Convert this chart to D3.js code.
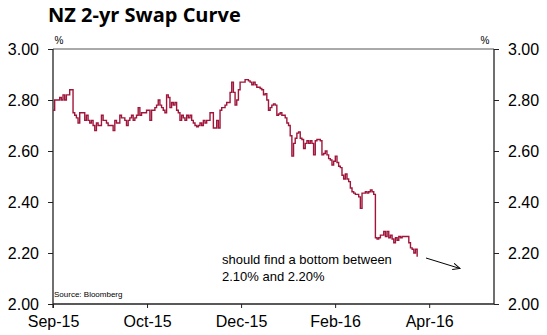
<!DOCTYPE html>
<html>
<head>
<meta charset="utf-8">
<script src="https://cdn.jsdelivr.net/npm/d3@7"></script>
<style>
  html, body { margin: 0; padding: 0; background: #fff; }
  svg { display: block; }
</style>
</head>
<body>
<svg id="chart" width="547" height="335"></svg>
<script>
// ---- Data ----
const title = "NZ 2-yr Swap Curve";
const yTicks = [2.00, 2.20, 2.40, 2.60, 2.80, 3.00];
const xTickLabels = ["Sep-15", "Oct-15", "Dec-15", "Feb-16", "Apr-16"];
const xTickIndex = [0, 56.3, 112.6, 168.9, 225.2];   // trading-day index of each label
const xDomainEnd = 264;                               // trading-day index at right axis
const swapRate = [
  // Sep-15 .. Oct-15
  2.76, 2.80, 2.80, 2.80, 2.81, 2.80, 2.82, 2.80, 2.82, 2.82, 2.84, 2.84, 2.75, 2.74, 2.73, 2.71,
  2.75, 2.75, 2.75, 2.72, 2.74, 2.72, 2.71, 2.72, 2.70, 2.68, 2.71, 2.70, 2.70, 2.74, 2.72, 2.72,
  2.71, 2.70, 2.70, 2.70, 2.68, 2.72, 2.71, 2.71, 2.74, 2.73, 2.73, 2.72, 2.70, 2.72, 2.73, 2.74,
  2.72, 2.73, 2.74, 2.77, 2.74, 2.75, 2.75, 2.75, 2.76, 2.76,
  // Oct-15 .. Dec-15
  2.72, 2.76, 2.76, 2.77, 2.78, 2.80, 2.78, 2.77, 2.76, 2.75, 2.82, 2.81, 2.77, 2.79, 2.78, 2.79,
  2.76, 2.75, 2.72, 2.74, 2.73, 2.72, 2.74, 2.73, 2.74, 2.72, 2.71, 2.70, 2.695, 2.70, 2.71, 2.70,
  2.72, 2.71, 2.72, 2.72, 2.75, 2.75, 2.69, 2.69, 2.72, 2.69, 2.76, 2.77, 2.77, 2.78, 2.79, 2.79,
  2.83, 2.87, 2.83, 2.78, 2.80, 2.84, 2.87, 2.87, 2.87, 2.88, 2.88,
  // Dec-15 .. Feb-16
  2.875, 2.87, 2.86, 2.87, 2.86, 2.85, 2.85, 2.845, 2.84, 2.82, 2.825, 2.80, 2.76, 2.77, 2.78, 2.785,
  2.78, 2.74, 2.745, 2.75, 2.74, 2.74, 2.73, 2.71, 2.70, 2.66, 2.58, 2.63, 2.65, 2.67, 2.675, 2.65,
  2.645, 2.61, 2.63, 2.64, 2.63, 2.64, 2.63, 2.585, 2.64, 2.645, 2.645, 2.64, 2.585, 2.59, 2.60, 2.585,
  2.57, 2.565, 2.545, 2.56, 2.58, 2.555, 2.54, 2.535,
  // Feb-16 .. end
  2.505, 2.49, 2.51, 2.49, 2.48, 2.455, 2.44, 2.435, 2.43, 2.43, 2.42, 2.375, 2.435, 2.435, 2.44, 2.435,
  2.44, 2.447, 2.44, 2.43, 2.26, 2.255, 2.26, 2.27, 2.27, 2.285, 2.265, 2.285, 2.26, 2.27, 2.255, 2.24,
  2.26, 2.25, 2.265, 2.26, 2.265, 2.265, 2.265, 2.265, 2.24, 2.22, 2.215, 2.20, 2.215, 2.185
];
const sourceText = "Source: Bloomberg";
const noteLines = ["should find a bottom between", "2.10% and 2.20%"];

// ---- Layout ----
const svg = d3.select("#chart");
const pL = 53, pR = 494, pT = 49, pB = 304;
const x = d3.scaleLinear().domain([0, xDomainEnd]).range([pL, pR]);
const y = d3.scaleLinear().domain([2, 3]).range([pB, pT]);
const axisColor = "#222";
const labelFont = "'Liberation Sans', Arial, sans-serif";

// Title
svg.append("text").attr("x", 48).attr("y", 22)
  .attr("font-family", "'Open Sans', sans-serif").attr("font-weight", 700)
  .attr("font-size", 20).attr("fill", "#000").text(title);

// Frame top line
svg.append("line").attr("x1", pL).attr("x2", pR).attr("y1", pT).attr("y2", pT)
  .attr("stroke", "#555").attr("stroke-width", 1);

// Left axis
const yLeft = d3.axisLeft(y).tickValues(yTicks).tickFormat(d3.format(".2f")).tickSize(5).tickPadding(9);
const gL = svg.append("g").attr("transform", `translate(${pL},0)`).call(yLeft);
// Right axis
const yRight = d3.axisRight(y).tickValues(yTicks).tickFormat(d3.format(".2f")).tickSize(5).tickPadding(9);
const gR = svg.append("g").attr("transform", `translate(${pR},0)`).call(yRight);
// Bottom axis
const xAxis = d3.axisBottom(x).tickValues(xTickIndex)
  .tickFormat((d, i) => xTickLabels[i]).tickSize(4).tickPadding(8);
const gB = svg.append("g").attr("transform", `translate(0,${pB})`).call(xAxis);

[gL, gR, gB].forEach(g => {
  g.select(".domain").attr("stroke", axisColor).attr("stroke-width", 1.3);
  g.selectAll(".tick line").attr("stroke", axisColor).attr("stroke-width", 1);
  g.selectAll(".tick text").attr("font-family", labelFont).attr("font-size", 16).attr("fill", "#000");
});
gL.select(".domain").attr("d", `M0,${pT}V${pB + 4}`);
gR.select(".domain").attr("d", `M0,${pT}V${pB}`);
gB.select(".domain").attr("d", `M${pL},0H${pR}`);

// % labels
svg.append("text").attr("x", 59).attr("y", 44).attr("text-anchor", "middle")
  .attr("font-family", labelFont).attr("font-size", 10).text("%");
svg.append("text").attr("x", 485).attr("y", 44).attr("text-anchor", "middle")
  .attr("font-family", labelFont).attr("font-size", 10).text("%");

// Series line
const line = d3.line()
  .x((d, i) => x(i))
  .y(d => y(d))
  .curve(d3.curveStepAfter);
svg.append("path").datum(swapRate)
  .attr("d", line)
  .attr("fill", "none")
  .attr("stroke", "#a0163a")
  .attr("stroke-width", 1.4);

// Source
svg.append("text").attr("x", 54).attr("y", 297)
  .attr("font-family", labelFont).attr("font-size", 8).text(sourceText);

// Annotation
const note = svg.append("text").attr("font-family", labelFont).attr("font-size", 13).attr("fill", "#000");
noteLines.forEach((t, i) => {
  note.append("tspan").attr("x", 222).attr("y", 264 + i * 16.5).text(t);
});

// Arrow
svg.append("defs").append("marker")
  .attr("id", "arr").attr("viewBox", "0 0 10 10").attr("refX", 9).attr("refY", 5)
  .attr("markerWidth", 8).attr("markerHeight", 8).attr("orient", "auto")
  .attr("markerUnits", "userSpaceOnUse")
  .append("path").attr("d", "M0,1L9,5L0,9").attr("fill", "none").attr("stroke", "#000").attr("stroke-width", 1.2);
svg.append("line").attr("x1", 426).attr("y1", 258).attr("x2", 460).attr("y2", 268.5)
  .attr("stroke", "#000").attr("stroke-width", 1).attr("marker-end", "url(#arr)");
</script>
</body>
</html>
